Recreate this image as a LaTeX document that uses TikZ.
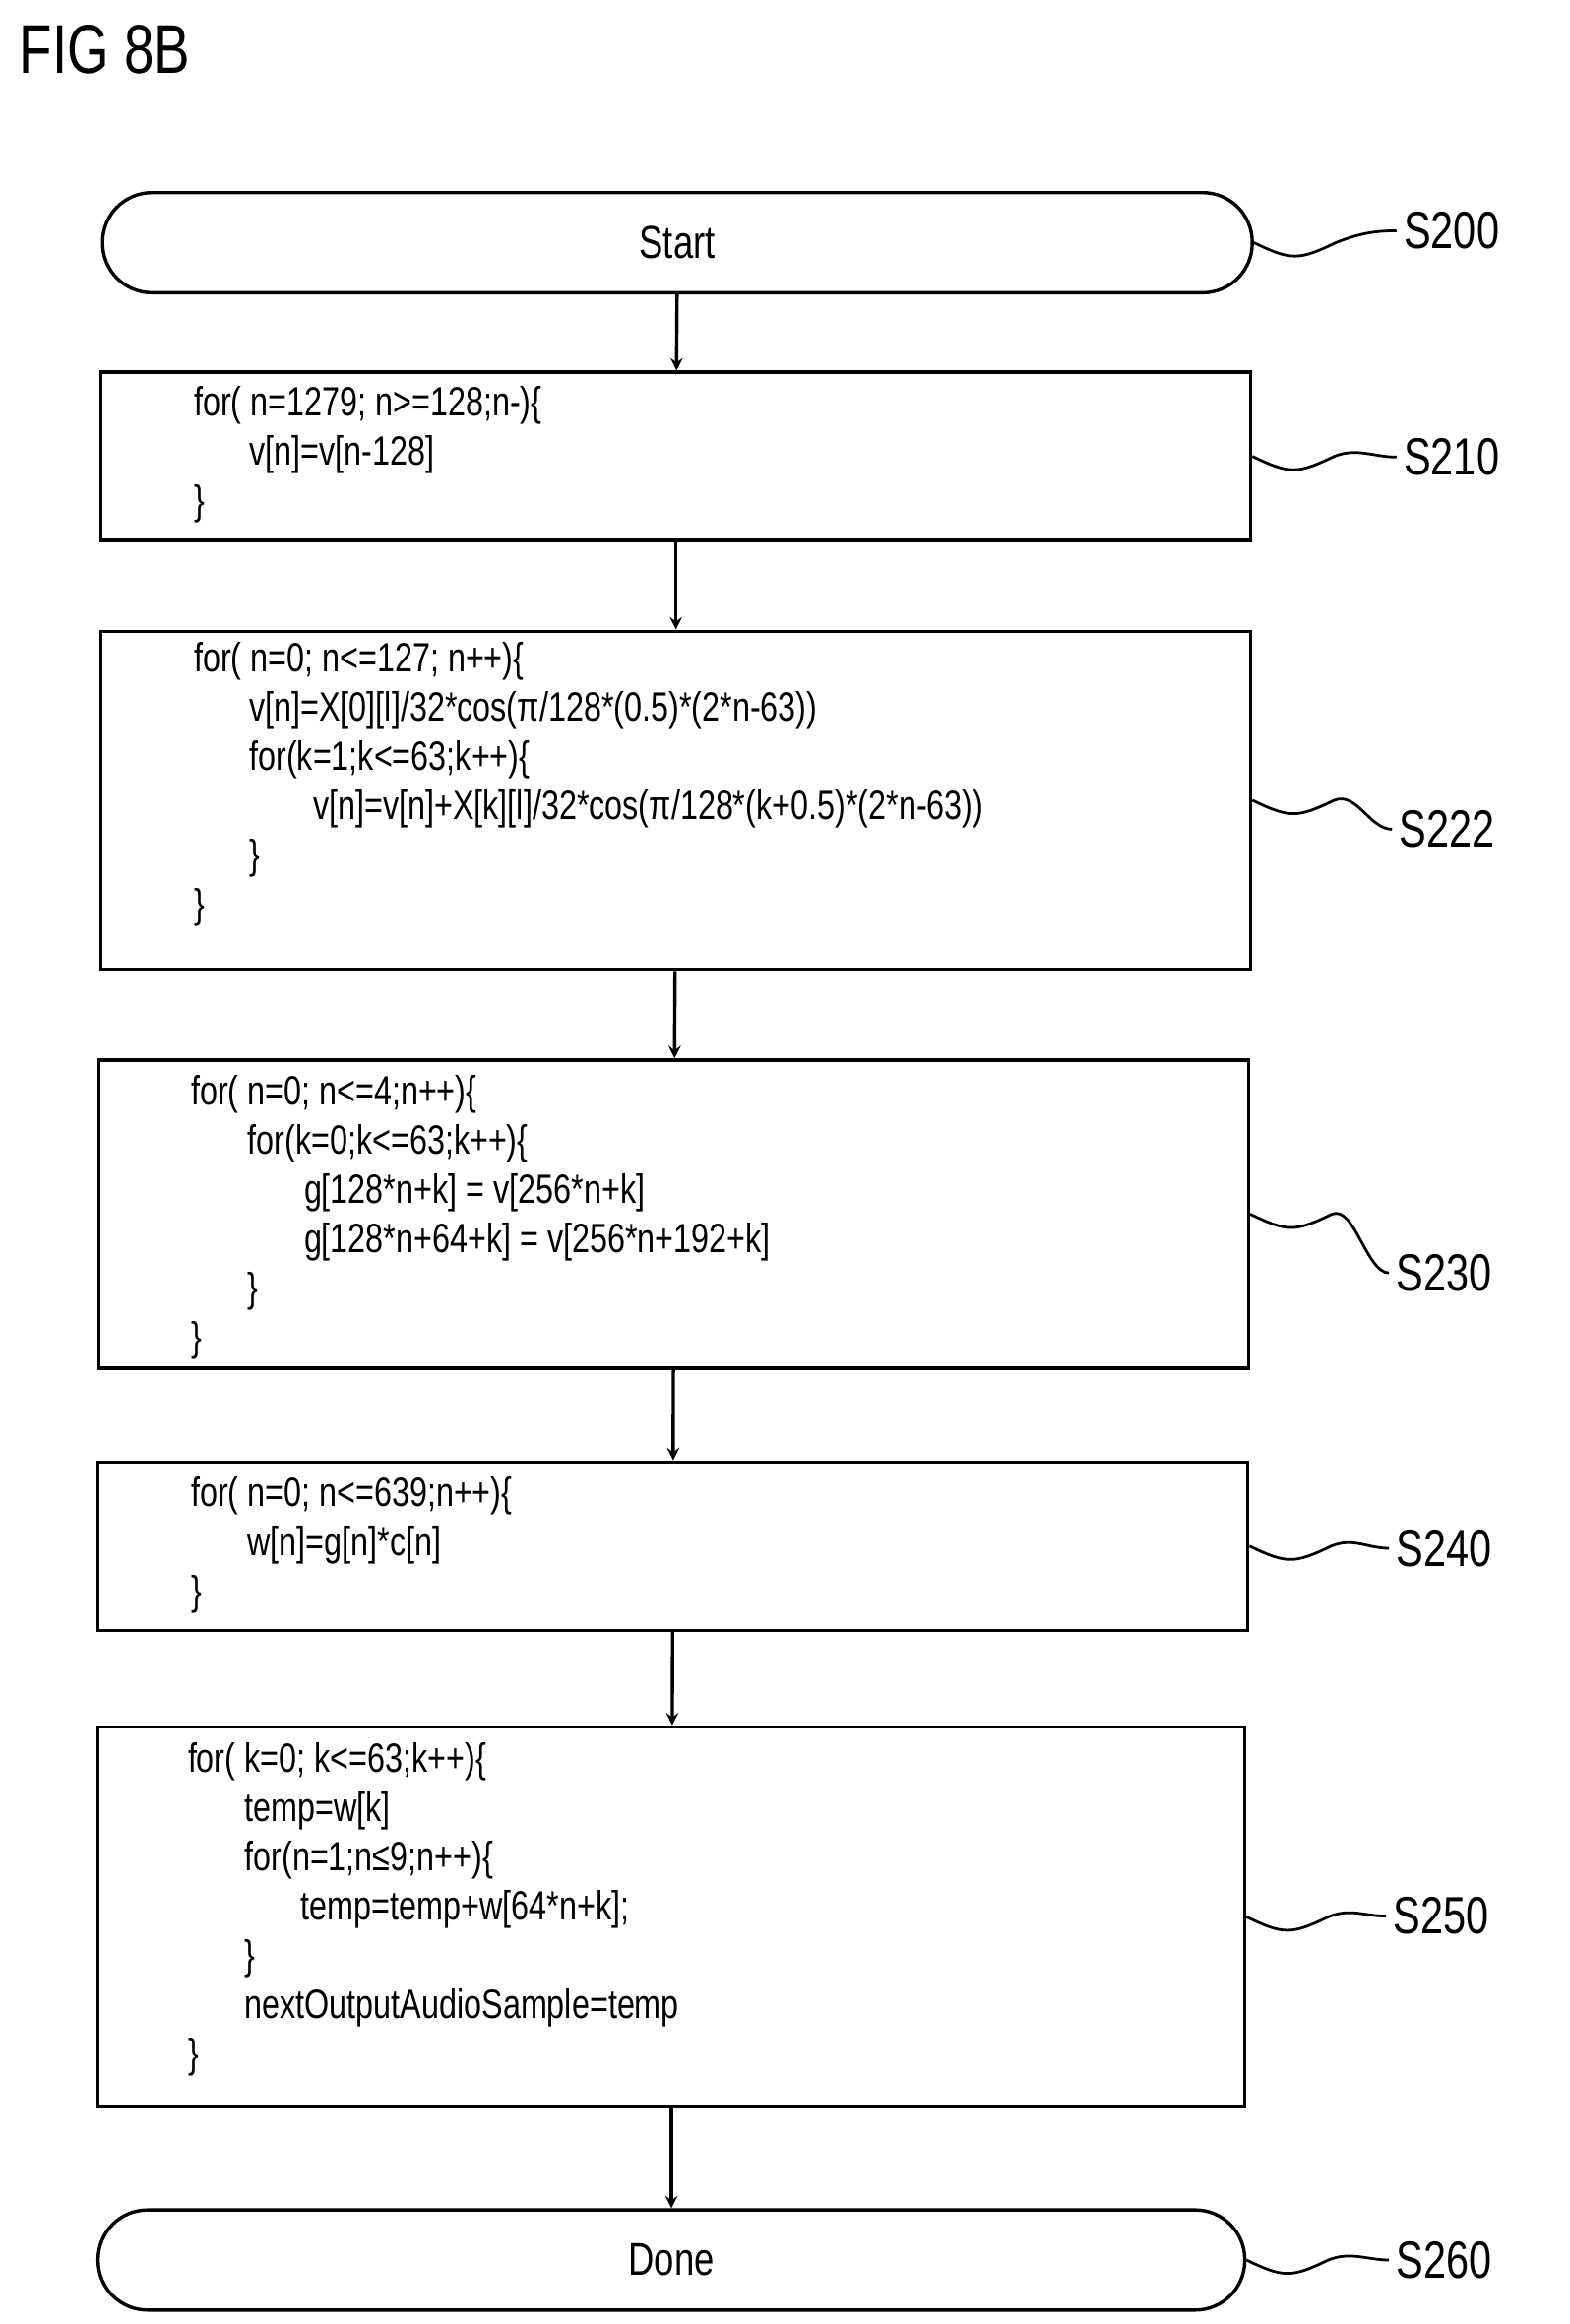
\documentclass[tikz,border=0pt]{standalone}
\usepackage{fontspec}
\setmainfont{Liberation Sans}[FakeStretch=0.78]
\usetikzlibrary{shapes, arrows}
\tikzstyle{term} = [rectangle, rounded corners=0.83cm, minimum width=19.3cm, minimum height=1.68cm, draw=black, line width=1.6pt, font=\fontsize{22}{26}\selectfont]
\tikzstyle{box} = [rectangle, draw=black, line width=1.6pt, minimum width=19.3cm]
\tikzstyle{code} = [anchor=north west, inner sep=0pt, align=left, font=\fontsize{19.5}{23.5}\selectfont]
\tikzstyle{steplabel} = [font=\fontsize{25}{30}\selectfont]
\tikzstyle{arrow} = [line width=1.6pt,->,>=stealth]
\tikzstyle{squig} = [line width=1.3pt]
\newcommand{\ind}[1]{\hspace*{#1cm}}

\begin{document}
\begin{tikzpicture}[x=0.025cm, y=-0.025cm]
    \useasboundingbox (0,0) rectangle (1054,1561);
    \node[anchor=north west, font=\fontsize{33}{38}\selectfont] (title) at (8,12) {FIG 8B};
    % Nodes
    \node (start) [term] at (455,163) {Start};
    \node (b210) [box, minimum height=2.825cm] at (454,306.5) {};
    \node (b222) [box, minimum height=5.675cm] at (454,537.5) {};
    \node (b230) [box, minimum height=5.175cm] at (452.5,815.5) {};
    \node (b240) [box, minimum height=2.825cm] at (452,1038.5) {};
    \node (b250) [box, minimum height=6.375cm, minimum width=19.25cm] at (451,1287.5) {};
    \node (done) [term, minimum width=19.25cm] at (451,1518) {Done};

    % Code
    \node (c210) [code] at (130,259) {for( n=1279; n>=128;n-)\{\\
        \ind{0.93}v[n]=v[n-128]\\
        \}};
    \node (c222) [code] at (130,431) {for( n=0; n<=127; n++)\{\\
        \ind{0.93}v[n]=X[0][l]/32*cos(π/128*(0.5)*(2*n-63))\\
        \ind{0.93}for(k=1;k<=63;k++)\{\\
        \ind{2.0}v[n]=v[n]+X[k][l]/32*cos(π/128*(k+0.5)*(2*n-63))\\
        \ind{0.93}\}\\
        \}};
    \node (c230) [code] at (128,722) {for( n=0; n<=4;n++)\{\\
        \ind{0.95}for(k=0;k<=63;k++)\{\\
        \ind{1.9}g[128*n+k] = v[256*n+k]\\
        \ind{1.9}g[128*n+64+k] = v[256*n+192+k]\\
        \ind{0.95}\}\\
        \}};
    \node (c240) [code] at (128,992) {for( n=0; n<=639;n++)\{\\
        \ind{0.95}w[n]=g[n]*c[n]\\
        \}};
    \node (c250) [code] at (126,1170) {for( k=0; k<=63;k++)\{\\
        \ind{0.95}temp=w[k]\\
        \ind{0.95}for(n=1;n≤9;n++)\{\\
        \ind{1.9}temp=temp+w[64*n+k];\\
        \ind{0.95}\}\\
        \ind{0.95}nextOutputAudioSample=temp\\
        \}};

    % Step labels
    \node (s200) [steplabel] at (975,155) {S200};
    \node (s210) [steplabel] at (975,307) {S210};
    \node (s222) [steplabel] at (972,557) {S222};
    \node (s230) [steplabel] at (970,855) {S230};
    \node (s240) [steplabel] at (970,1040) {S240};
    \node (s250) [steplabel] at (968,1287) {S250};
    \node (s260) [steplabel] at (970,1518) {S260};

    % Arrows
    \draw [arrow] (start) -- (b210);
    \draw [arrow] (b210) -- (b222);
    \draw [arrow] (b222) -- (b230);
    \draw [arrow] (b230) -- (b240);
    \draw [arrow] (b240) -- (b250);
    \draw [arrow] (b250) -- (done);

    % Leaders
    \foreach \b/\s in {start/s200, b210/s210, b222/s222, b230/s230, b240/s240, b250/s250, done/s260}
        \draw [squig] (\b.east) .. controls +(25,12) and +(-25,12) .. ++(55,0)
            .. controls +(15,-6) and +(-15,0) .. (\s.west);
\end{tikzpicture}
\end{document}
